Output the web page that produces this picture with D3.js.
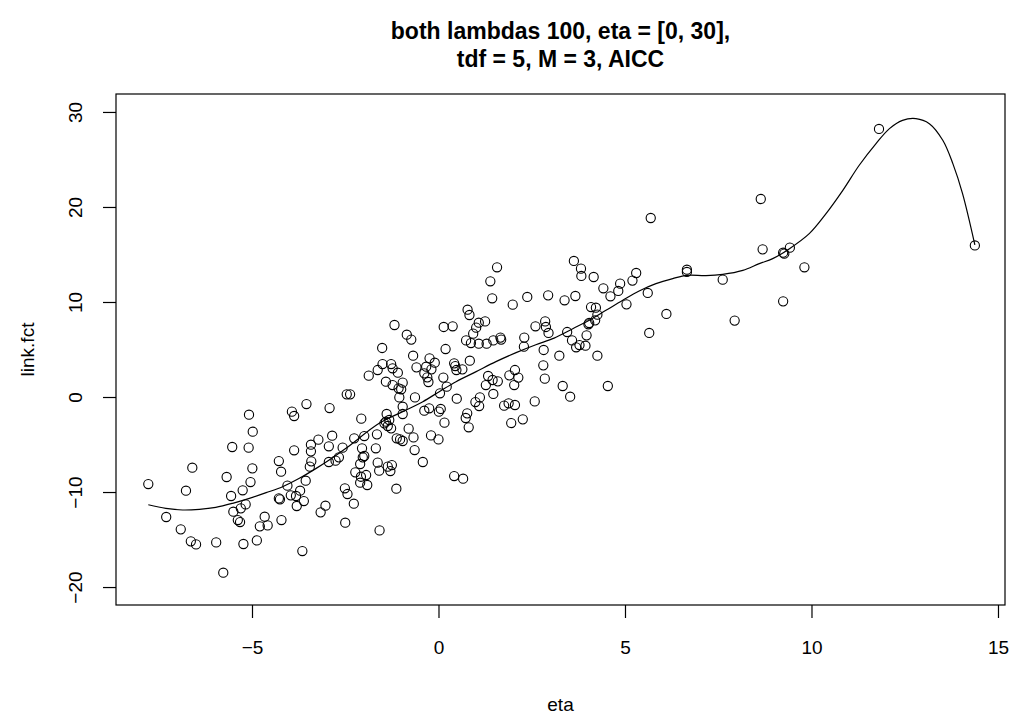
<!DOCTYPE html>
<html>
<head>
<meta charset="utf-8">
<script src="https://cdn.jsdelivr.net/npm/d3@7"></script>
<style>
  body { margin: 0; background: #fff; }
  svg { display: block; }
  text { font-family: "Liberation Sans", Arial, Helvetica, sans-serif; fill: #000; }
</style>
</head>
<body>
<svg id="chart" width="1011" height="717"></svg>
<script>
// observed eta values and the matching link function values
const etaObs = [
  -7.78,-7.30,-6.91,-6.64,-6.50,-6.60,-6.77,-5.96,-5.77,-5.68,-5.53,-5.08,-4.98,-5.09,-4.99,-5.04,-5.56,-5.25,-5.17,-5.30,
  -5.50,-5.38,-5.32,-5.23,-4.87,-4.79,-4.66,-4.58,-4.21,-4.28,-4.22,-4.05,-4.28,-4.25,-3.96,-3.82,-3.80,-3.71,-3.61,-3.56,
  -3.65,-3.87,-3.93,-3.87,-3.54,-2.92,-3.42,-3.22,-2.85,-2.94,-3.42,-3.41,-3.45,-3.16,-3.03,-2.94,-2.76,-2.67,-2.57,
  -1.51,-0.68,0.19,2.29,2.82,2.81,2.85,2.58,2.26,1.95,2.05,1.88,1.76,2.03,2.14,1.90,2.05,1.59,1.45,1.33,
  1.27,1.47,1.11,0.99,1.09,0.81,0.73,0.77,0.49,0.16,0.00,-0.20,0.06,0.01,-0.25,-0.38,0.04,0.22,0.13,-0.63,
  0.84,0.64,0.48,0.45,0.42,-0.10,-0.24,-0.19,-0.33,-0.38,-0.30,-0.27,-0.59,-1.09,-1.27,-1.23,-1.50,-1.63,-1.87,-1.41,
  -1.23,-1.07,-0.96,-1.00,-1.05,-0.96,-0.96,-1.39,-1.41,-1.45,-1.32,-1.36,-1.27,-2.07,-2.46,-2.37,-2.26,-1.99,-1.65,-1.68,
  -2.05,-1.99,-2.03,-2.10,-2.23,-1.94,-2.08,-2.10,-1.91,-2.51,-2.44,-2.27,-2.50,-1.58,-1.13,-1.63,-1.59,-1.36,-1.25,-1.29,
  -0.80,-0.67,-1.12,-1.03,-0.96,-0.64,-0.42,0.42,0.66,
  1.57,1.39,1.44,1.99,2.38,2.94,-1.18,-0.85,-0.73,0.14,0.38,0.78,0.83,1.08,1.25,1.01,0.93,0.74,0.87,1.08,
  1.29,1.47,1.66,1.68,2.30,2.60,2.86,2.88,2.95,
  5.69,8.64,8.69,6.66,6.66,7.62,7.94,6.11,5.65,5.61,5.04,5.30,5.20,4.87,4.82,4.61,4.42,4.16,3.83,3.82,
  3.63,3.67,3.38,4.09,4.22,4.26,4.20,4.04,4.02,3.97,3.45,3.58,
  11.81,14.38,9.24,9.27,9.42,9.81,9.24,
  3.24,3.33,3.53,4.54,4.26,3.94,3.69,3.78
];
const linkObs = [
  -9.16,-12.63,-13.93,-15.19,-15.51,-7.44,-9.86,-15.30,-18.49,-8.42,-5.26,-1.86,-3.65,-5.33,-7.51,-8.95,-10.42,-9.82,-11.30,-11.72,
  -12.07,-12.95,-13.16,-15.47,-15.09,-13.61,-12.60,-13.51,-12.95,-6.74,-7.86,-9.33,-10.67,-10.77,-10.35,-10.42,-11.47,-9.86,-10.95,-8.81,
  -16.21,-5.61,-1.54,-2.00,-0.74,-1.16,-5.02,-4.49,-4.07,-5.19,-5.72,-6.77,-7.33,-12.14,-11.44,-6.84,-6.70,-6.35,-5.33,
  5.16,4.35,5.05,5.30,4.95,3.33,1.93,-0.46,-2.35,-2.74,-0.84,-0.67,-0.91,1.26,2.04,2.28,2.84,1.65,1.79,2.21,
  1.26,0.32,-0.04,-0.53,-0.95,-3.19,-2.21,-1.72,-0.18,-2.70,-4.46,-4.04,-1.26,-1.54,-1.19,-1.44,0.39,1.09,2.04,-0.04,
  3.82,2.91,2.84,3.26,3.54,3.61,4.07,2.91,3.19,2.49,2.07,1.58,3.12,2.56,3.47,3.02,3.47,2.84,2.25,1.61,
  1.26,0.91,1.51,0.81,-0.04,-1.02,-1.79,-1.79,-2.60,-2.77,-2.42,-3.05,-3.30,-2.28,0.28,0.28,-4.35,-4.11,-3.93,-5.40,
  -5.40,-6.21,-6.35,-7.05,-7.93,-8.21,-8.39,-9.02,-9.26,-9.61,-10.21,-11.23,-13.23,-14.04,-9.65,-6.91,-7.75,-7.33,-7.16,-7.79,
  -3.33,-4.25,-4.35,-4.46,-4.63,-5.58,-6.84,-8.32,-8.60,
  13.65,12.18,10.39,9.72,10.53,10.70,7.58,6.56,6.04,7.37,7.44,9.19,8.63,7.82,7.96,7.30,6.67,5.96,5.68,5.61,
  5.61,5.96,6.25,6.04,6.25,7.44,7.96,7.37,6.74,
  18.84,20.84,15.54,13.40,13.16,12.35,8.04,8.74,6.74,10.95,9.75,13.05,12.25,11.93,11.16,10.60,11.44,12.63,12.74,13.51,
  14.32,10.63,10.18,9.47,9.40,8.67,8.07,7.79,7.65,6.49,6.84,5.96,
  28.21,15.95,15.19,15.09,15.72,13.65,10.07,
  4.35,1.16,0.03,1.16,4.35,5.40,5.23,5.47
];

// fitted smooth link function over eta
const fitEta = [
  -7.78,-7.31,-6.86,-6.41,-5.97,-5.52,-5.07,-4.62,-4.18,-3.73,-3.28,-2.93,-2.48,-1.59,-0.96,-0.42,0.02,0.47,1.01,1.54,
  2.08,2.61,3.10,3.60,4.04,4.49,4.94,5.38,5.83,6.28,6.66,7.17,7.62,8.16,8.60,8.96,9.41,9.94,10.39,10.84,
  11.28,11.73,12.09,12.44,12.80,13.16,13.52,13.79,14.05,14.38
];
const fitLink = [
  -11.34,-11.72,-11.89,-11.82,-11.61,-11.19,-10.67,-10.07,-9.44,-8.56,-7.51,-6.63,-5.40,-2.77,-1.54,-0.49,0.56,1.61,2.67,3.72,
  4.67,5.50,6.20,7.19,8.07,9.12,10.18,11.16,11.93,12.46,12.81,12.78,12.91,13.33,14.04,14.56,15.61,17.19,19.30,21.75,
  24.39,26.67,28.25,29.12,29.30,28.77,27.02,24.56,21.40,16.00
];

const xTicks = [-5, 0, 5, 10, 15];
const yTicks = [-20, -10, 0, 10, 20, 30];
const titleLines = ["both lambdas 100, eta = [0, 30],", "tdf = 5, M = 3, AICC"];
const xLabel = "eta";
const yLabel = "link.fct";

const svg = d3.select("#chart");
const plot = { left: 116, right: 1005, top: 94, bottom: 605 };

const x = d3.scaleLinear().domain([-8.646, 15.188]).range([plot.left, plot.right]);
const y = d3.scaleLinear().domain([-21.89, 31.89]).range([plot.bottom, plot.top]);
const fmt = d3.format("");

// points
svg.append("g")
  .selectAll("circle")
  .data(d3.range(etaObs.length))
  .join("circle")
  .attr("cx", i => x(etaObs[i]))
  .attr("cy", i => y(linkObs[i]))
  .attr("r", 4.6)
  .attr("fill", "none")
  .attr("stroke", "#000")
  .attr("stroke-width", 1.1);

// fitted curve
const line = d3.line()
  .x(i => x(fitEta[i]))
  .y(i => y(fitLink[i]))
  .curve(d3.curveCatmullRom.alpha(0.5));
svg.append("path")
  .attr("d", line(d3.range(fitEta.length)))
  .attr("fill", "none")
  .attr("stroke", "#000")
  .attr("stroke-width", 1.2);

// frame
svg.append("rect")
  .attr("x", plot.left).attr("y", plot.top)
  .attr("width", plot.right - plot.left)
  .attr("height", plot.bottom - plot.top)
  .attr("fill", "none").attr("stroke", "#000").attr("stroke-width", 1.2);

// x axis
const gx = svg.append("g")
  .attr("transform", `translate(0,${plot.bottom})`)
  .call(d3.axisBottom(x).tickValues(xTicks).tickFormat(fmt).tickSize(13).tickPadding(23).tickSizeOuter(0));
gx.select(".domain").remove();
gx.selectAll("line").attr("stroke", "#000").attr("stroke-width", 1.2);
gx.selectAll("text").attr("font-size", 19).attr("font-family", null);

// y axis, labels parallel to the axis
const gy = svg.append("g")
  .attr("transform", `translate(${plot.left},0)`)
  .call(d3.axisLeft(y).tickValues(yTicks).tickFormat(fmt).tickSize(13).tickSizeOuter(0));
gy.select(".domain").remove();
gy.selectAll("line").attr("stroke", "#000").attr("stroke-width", 1.2);
gy.selectAll("text")
  .attr("font-size", 19).attr("font-family", null)
  .attr("x", null).attr("dy", null)
  .attr("text-anchor", "middle")
  .attr("transform", "translate(-34,0) rotate(-90)");

// axis titles
svg.append("text")
  .attr("x", (plot.left + plot.right) / 2).attr("y", 711)
  .attr("text-anchor", "middle").attr("font-size", 19)
  .text(xLabel);
svg.append("text")
  .attr("transform", `translate(34,${(plot.top + plot.bottom) / 2}) rotate(-90)`)
  .attr("text-anchor", "middle").attr("font-size", 19)
  .text(yLabel);

// main title
svg.append("g").selectAll("text")
  .data(titleLines)
  .join("text")
  .attr("x", (plot.left + plot.right) / 2)
  .attr("y", (d, i) => 39 + i * 28)
  .attr("text-anchor", "middle")
  .attr("font-size", 23)
  .attr("font-weight", "bold")
  .text(d => d);
</script>
</body>
</html>
